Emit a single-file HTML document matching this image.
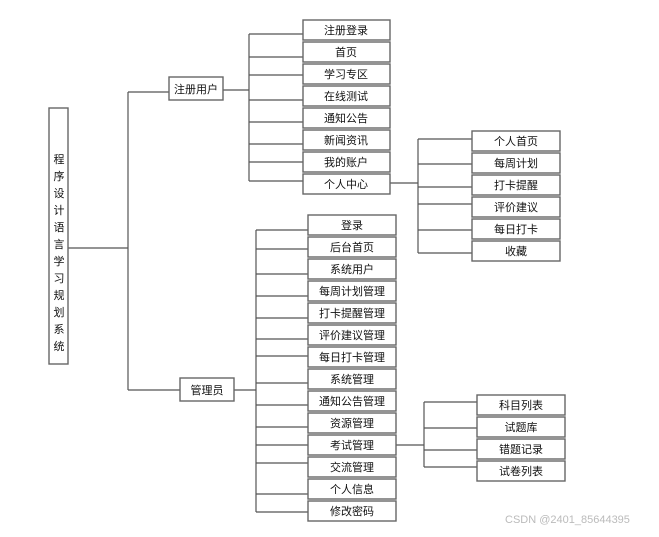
<!DOCTYPE html>
<html><head><meta charset="utf-8"><style>
html,body{margin:0;padding:0;background:#fff;}
svg text{font-family:"Liberation Sans","Noto Sans CJK SC","WenQuanYi Zen Hei",sans-serif;font-size:11px;fill:#111;}
</style></head><body>
<svg width="659" height="532" viewBox="0 0 659 532" xmlns="http://www.w3.org/2000/svg">
<g stroke="#555" stroke-width="1.2" fill="none">
<!-- root -->
<line x1="68" y1="248" x2="128" y2="248"/>
<line x1="128" y1="92" x2="128" y2="390"/>
<line x1="128" y1="92" x2="169" y2="92"/>
<line x1="128" y1="390" x2="180" y2="390"/>
<!-- user -->
<line x1="223" y1="90" x2="249" y2="90"/>
<line x1="249" y1="34" x2="249" y2="181"/>
<line x1="249" y1="34" x2="303" y2="34"/>
<line x1="249" y1="57" x2="303" y2="57"/>
<line x1="249" y1="75" x2="303" y2="75"/>
<line x1="249" y1="100" x2="303" y2="100"/>
<line x1="249" y1="122" x2="303" y2="122"/>
<line x1="249" y1="144" x2="303" y2="144"/>
<line x1="249" y1="162" x2="303" y2="162"/>
<line x1="249" y1="181" x2="303" y2="181"/>
<!-- personal center -->
<line x1="390" y1="183" x2="418" y2="183"/>
<line x1="418" y1="139" x2="418" y2="253"/>
<line x1="418" y1="139" x2="472" y2="139"/>
<line x1="418" y1="164" x2="472" y2="164"/>
<line x1="418" y1="187" x2="472" y2="187"/>
<line x1="418" y1="204" x2="472" y2="204"/>
<line x1="418" y1="230" x2="472" y2="230"/>
<line x1="418" y1="253" x2="472" y2="253"/>
<!-- admin -->
<line x1="234" y1="390" x2="256" y2="390"/>
<line x1="256" y1="230" x2="256" y2="512"/>
<line x1="256" y1="230" x2="308" y2="230"/>
<line x1="256" y1="249" x2="308" y2="249"/>
<line x1="256" y1="274" x2="308" y2="274"/>
<line x1="256" y1="296" x2="308" y2="296"/>
<line x1="256" y1="318" x2="308" y2="318"/>
<line x1="256" y1="339" x2="308" y2="339"/>
<line x1="256" y1="356" x2="308" y2="356"/>
<line x1="256" y1="383" x2="308" y2="383"/>
<line x1="256" y1="405" x2="308" y2="405"/>
<line x1="256" y1="427" x2="308" y2="427"/>
<line x1="256" y1="445" x2="308" y2="445"/>
<line x1="256" y1="463" x2="308" y2="463"/>
<line x1="256" y1="494" x2="308" y2="494"/>
<line x1="256" y1="512" x2="308" y2="512"/>
<!-- exam -->
<line x1="396" y1="445" x2="424" y2="445"/>
<line x1="424" y1="402" x2="424" y2="467"/>
<line x1="424" y1="402" x2="477" y2="402"/>
<line x1="424" y1="428" x2="477" y2="428"/>
<line x1="424" y1="450" x2="477" y2="450"/>
<line x1="424" y1="467" x2="477" y2="467"/>
</g>
<g stroke="#666" stroke-width="1.4" fill="#fff">
<rect x="49" y="108" width="19" height="256"/>
<rect x="169" y="77" width="54" height="23"/>
<rect x="180" y="378" width="54" height="23"/>
<rect x="303" y="20" width="87" height="20"/>
<rect x="303" y="42" width="87" height="20"/>
<rect x="303" y="64" width="87" height="20"/>
<rect x="303" y="86" width="87" height="20"/>
<rect x="303" y="108" width="87" height="20"/>
<rect x="303" y="130" width="87" height="20"/>
<rect x="303" y="152" width="87" height="20"/>
<rect x="303" y="174" width="87" height="20"/>
<rect x="472" y="131" width="88" height="20"/>
<rect x="472" y="153" width="88" height="20"/>
<rect x="472" y="175" width="88" height="20"/>
<rect x="472" y="197" width="88" height="20"/>
<rect x="472" y="219" width="88" height="20"/>
<rect x="472" y="241" width="88" height="20"/>
<rect x="308" y="215" width="88" height="20"/>
<rect x="308" y="237" width="88" height="20"/>
<rect x="308" y="259" width="88" height="20"/>
<rect x="308" y="281" width="88" height="20"/>
<rect x="308" y="303" width="88" height="20"/>
<rect x="308" y="325" width="88" height="20"/>
<rect x="308" y="347" width="88" height="20"/>
<rect x="308" y="369" width="88" height="20"/>
<rect x="308" y="391" width="88" height="20"/>
<rect x="308" y="413" width="88" height="20"/>
<rect x="308" y="435" width="88" height="20"/>
<rect x="308" y="457" width="88" height="20"/>
<rect x="308" y="479" width="88" height="20"/>
<rect x="308" y="501" width="88" height="20"/>
<rect x="477" y="395" width="88" height="20"/>
<rect x="477" y="417" width="88" height="20"/>
<rect x="477" y="439" width="88" height="20"/>
<rect x="477" y="461" width="88" height="20"/>
</g>
<g text-anchor="middle">
<text x="59" y="163">程</text><text x="59" y="180">序</text><text x="59" y="197">设</text><text x="59" y="214">计</text><text x="59" y="231">语</text><text x="59" y="248">言</text><text x="59" y="265">学</text><text x="59" y="282">习</text><text x="59" y="299">规</text><text x="59" y="316">划</text><text x="59" y="333">系</text><text x="59" y="350">统</text>
<text x="196" y="93">注册用户</text>
<text x="207" y="394">管理员</text>
<text x="346" y="34">注册登录</text>
<text x="346" y="56">首页</text>
<text x="346" y="78">学习专区</text>
<text x="346" y="100">在线测试</text>
<text x="346" y="122">通知公告</text>
<text x="346" y="144">新闻资讯</text>
<text x="346" y="166">我的账户</text>
<text x="346" y="188">个人中心</text>
<text x="516" y="145">个人首页</text>
<text x="516" y="167">每周计划</text>
<text x="516" y="189">打卡提醒</text>
<text x="516" y="211">评价建议</text>
<text x="516" y="233">每日打卡</text>
<text x="516" y="255">收藏</text>
<text x="352" y="229">登录</text>
<text x="352" y="251">后台首页</text>
<text x="352" y="273">系统用户</text>
<text x="352" y="295">每周计划管理</text>
<text x="352" y="317">打卡提醒管理</text>
<text x="352" y="339">评价建议管理</text>
<text x="352" y="361">每日打卡管理</text>
<text x="352" y="383">系统管理</text>
<text x="352" y="405">通知公告管理</text>
<text x="352" y="427">资源管理</text>
<text x="352" y="449">考试管理</text>
<text x="352" y="471">交流管理</text>
<text x="352" y="493">个人信息</text>
<text x="352" y="515">修改密码</text>
<text x="521" y="409">科目列表</text>
<text x="521" y="431">试题库</text>
<text x="521" y="453">错题记录</text>
<text x="521" y="475">试卷列表</text>
</g>
<text x="505" y="523" style="fill:#bbb;font-size:11px;">CSDN @2401_85644395</text>
</svg>
</body></html>
